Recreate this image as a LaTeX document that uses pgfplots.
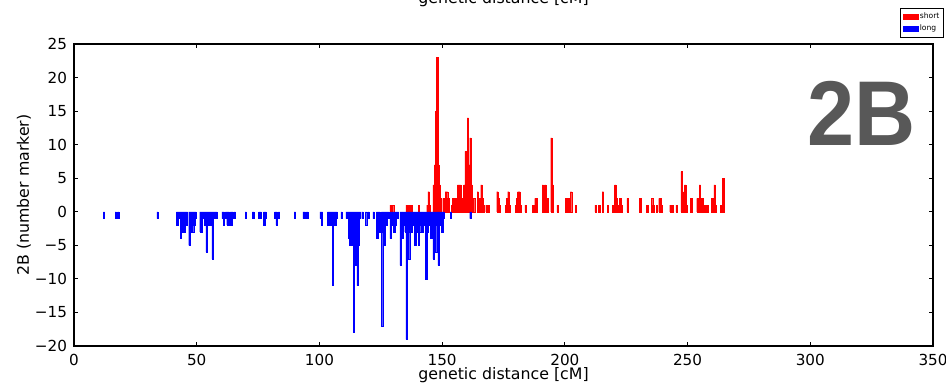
\documentclass[border=0pt]{standalone}
\usepackage{pgfplots}
\pgfplotsset{compat=1.18}
\usepackage{fontspec}
\setmainfont{DejaVu Sans}
\newfontfamily\bigfont{Liberation Sans}
\definecolor{bigtext}{RGB}{88,88,88}
\begin{document}
\begin{tikzpicture}
\begin{axis}[
  at={(0,0)}, anchor=south west,
  scale only axis, width=429.5pt, height=151pt,
  xmin=0, xmax=350, ymin=-20, ymax=25,
  xtick={0,50,...,350},
  ytick={-20,-15,...,25},
  yticklabels={−20,−15,−10,−5,0,5,10,15,20,25},
  xticklabels={0,50,100,150,200,250,300,350},
  tick align=inside, major tick length=2.2pt,
  tick style={black, line width=0.5pt},
  axis line style={line width=0.6pt},
  tick label style={font=\fontsize{7.6}{9}\selectfont},
  xticklabel style={yshift=-0.5pt},
  label style={font=\fontsize{7.9}{9}\selectfont},
  xlabel={genetic distance [cM]},
  ylabel={2B (number marker)},
  xlabel style={at={(axis description cs:0.5,0)}, anchor=base, yshift=-16.5pt},
  ylabel style={at={(axis description cs:0,0.5)}, anchor=base, yshift=22.5pt},
  legend style={at={(rel axis cs:0.9616,1.1192)}, anchor=north west,
     font=\fontsize{3.8}{4.2}\selectfont, draw=black, line width=0.5pt,
     inner sep=1.2pt, row sep=0pt, cells={anchor=west},
     nodes={inner sep=0.8pt}},
  legend image code/.code={\fill[#1] (0pt,-1.3pt) rectangle (7.5pt,1.3pt);},
  clip=false,
]
\addplot[ybar, bar width=0.55, bar shift=0pt, fill=red, draw=red, line width=0.15pt] coordinates {
(129,1)(130,1)(135.5,1)(136,1)(137,1)(137.5,1)(140.5,1)(144,1)(144.5,3)(145,1)
(146.5,4)(147,7)(147.5,15)(148,23)(148.5,7)(149,4)(149.5,2)(150.5,2)(151.5,3)(152,3)
(152.5,2)(154,1)(154.5,2)(155,1)(155.5,2)(156.5,4)(157,4)(157.5,4)(158,1)(158.5,2)
(159,4)(159.5,9)(160,8)(160.5,14)(161,7)(161.5,11)(162,4)(162.5,2)(163,2)
(164.5,3)(165,2)(165.5,2)(166,4)(166.5,2)(167,1)(168,1)(169,1)
(172.5,3)(173,2)(173.5,1)(176,1)(176.5,2)(177,3)(177.5,1)(180,1)(180.5,2)(181,3)
(181.5,3)(182,1)(184,1)(187,1)(187.5,1)(188,2)(188.5,2)(191,4)(191.5,2)(192,4)
(192.5,2)(193,2)(194.5,11)(195,4)(197,1)(200.5,2)(201,1)(201.5,2)(202.5,3)(204.5,1)
(212.5,1)(214,1)(215.5,3)(217.5,1)(219.5,1)(220.5,4)(221,2)(221.5,1)(222.5,2)(223,1)
(225.5,2)(230.5,2)(231,2)(233.5,1)(235.5,2)(236,1)(237.5,1)(238.5,2)(239,2)(239.5,1)
(243,1)(244,1)(245.5,1)(247.5,6)(248,3)(249,4)(249.5,1)(251.5,2)(254,2)(254.5,2)
(255,4)(255.5,2)(256,2)(256.5,1)(257,1)(258,1)(260,2)(261,4)(261.5,1)(263.5,1)(264.5,5)
};
\addlegendentry{short}
\addplot[ybar, bar width=0.55, bar shift=0pt, fill=blue, draw=blue, line width=0.15pt] coordinates {
(12.2,-1)(17,-1)(18,-1)(34,-1)
(42,-2)(42.5,-1)(43,-1)(43.5,-4)(44,-2)(44.5,-3)(45,-3)(45.5,-2)(46,-2)(47,-5)
(47.5,-3)(48,-3)(48.5,-3)(49,-2)(49.5,-1)(51.5,-3)(52,-3)(52.5,-1)(53,-1)(53.5,-2)
(54,-6)(54.5,-2)(55,-2)(55.5,-2)(56,-1)(56.5,-7)(57,-1)(57.5,-1)(58,-1)
(60.5,-1)(61,-2)(62,-1)(62.5,-2)(63,-2)(64,-2)(64.5,-1)(65.5,-1)(70,-1)(73,-1)
(75.5,-1)(76,-1)(77.5,-2)(78,-1)(82,-1)(82.5,-2)(83.5,-1)(90,-1)(93.5,-1)(94,-1)(95,-1)
(100.5,-1)(101,-2)(103.5,-2)(104,-2)(104.5,-1)(105,-2)(105.5,-11)(106,-2)(106.5,-2)(107,-1)
(109,-1)(111,-1)(111.5,-1)(112,-4)(112.5,-5)(113,-5)(113.5,-3)(114,-18)(114.5,-5)(115,-8)
(115.5,-11)(116,-5)(116.5,-1)(117.5,-1)(119,-2)(120,-1)(122,-1)
(123.5,-4)(124,-1)(124.5,-3)(125.5,-17)(126,-3)(126.5,-5)(127,-2)(127.5,-2)(128,-1)
(129,-4)(129.5,-2)(130,-1)(130.5,-3)(131,-2)(131.5,-1)(132,-1)(133,-8)(133.5,-3)(134,-4)
(134.5,-2)(135,-3)(135.5,-19)(136,-4)(136.5,-7)(137,-3)(137.5,-3)(138,-2)(138.5,-2)(139,-5)
(139.5,-3)(140,-2)(140.5,-5)(141,-3)(141.5,-2)(142,-3)(142.5,-2)(143,-2)(143.5,-10)(144,-3)
(144.5,-2)(145,-2)(145.5,-4)(146,-2)(146.5,-7)(147,-6)(147.5,-6)(148,-2)(148.5,-8)(149,-2)
(150,-3)(150.5,-1)(153.5,-1)(161.5,-1)
};
\addlegendentry{long}
\node[font=\bigfont\fontsize{46}{46}\selectfont\bfseries, text=bigtext, xscale=0.92] at (axis cs:320.7,14.7) {2B};
\end{axis}
\node[anchor=base, font=\fontsize{7.9}{9}\selectfont] at (214.75pt,171.5pt) {genetic distance [cM]};
\pgfresetboundingbox
\path[use as bounding box] (-37pt,-20.5pt) rectangle (436pt,173pt);
\end{tikzpicture}
\end{document}
